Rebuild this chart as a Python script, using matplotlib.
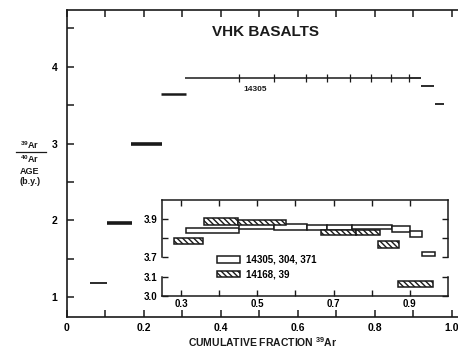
import matplotlib
matplotlib.use("Agg")
import matplotlib.pyplot as plt
from matplotlib.patches import Patch
import numpy as np

plt.rcParams['font.family'] = ['Liberation Sans', 'DejaVu Sans']
plt.rcParams['font.weight'] = 'bold'
plt.rcParams['axes.labelweight'] = 'bold'
plt.rcParams['mathtext.fontset'] = 'custom'
plt.rcParams['mathtext.rm'] = 'Liberation Sans:bold'
plt.rcParams['mathtext.it'] = 'Liberation Sans:bold'
plt.rcParams['mathtext.bf'] = 'Liberation Sans:bold'
plt.rcParams['mathtext.default'] = 'rm'
plt.rcParams['hatch.linewidth'] = 1.0

INK = '#1a1a1a'

# main age spectrum (cumulative fraction start, end, age in b.y.)
step_start = [0.060, 0.105, 0.166, 0.244, 0.307, 0.888, 0.919, 0.956]
step_end = [0.105, 0.170, 0.247, 0.309, 0.888, 0.919, 0.953, 0.980]
step_age = [1.18, 1.965, 3.00, 3.64, 3.857, 3.85, 3.745, 3.52]
step_width = [1.3, 2.6, 2.6, 1.8, 1.1, 1.3, 1.3, 1.3]
plateau_ticks = [0.447, 0.538, 0.621, 0.675, 0.735, 0.79, 0.842, 0.888]

# inset: 14305, 304, 371 (open boxes)
open_x0 = [0.313, 0.453, 0.545, 0.629, 0.682, 0.747, 0.853, 0.900, 0.932]
open_x1 = [0.453, 0.545, 0.629, 0.682, 0.747, 0.853, 0.900, 0.932, 0.966]
open_lo = [3.826, 3.847, 3.842, 3.842, 3.842, 3.847, 3.832, 3.805, 3.703]
open_hi = [3.850, 3.882, 3.876, 3.871, 3.871, 3.871, 3.861, 3.839, 3.726]

# inset: 14168, 39 (hatched boxes)
hatch_x0 = [0.282, 0.360, 0.450, 0.668, 0.760, 0.816]
hatch_x1 = [0.358, 0.450, 0.574, 0.760, 0.822, 0.871]
hatch_lo = [3.766, 3.871, 3.871, 3.818, 3.818, 3.747]
hatch_hi = [3.800, 3.905, 3.895, 3.842, 3.842, 3.782]
# the one low-age box (lower broken panel)
low_x0 = [0.868]
low_x1 = [0.960]
low_lo = [3.046]
low_hi = [3.077]

W, H = 458, 350
fig = plt.figure(figsize=(W / 100, H / 100), dpi=100)


def box(l, t, r, b):
    return [l / W, 1 - b / H, (r - l) / W, (b - t) / H]


ax = fig.add_axes(box(67, 10, 458, 317))
ax.set_xlim(0, 1.016)
ax.set_ylim(0.74, 4.74)
ax.spines['right'].set_visible(False)
for s in ax.spines.values():
    s.set_linewidth(1.2)
    s.set_color(INK)
ax.set_xticks(np.arange(0, 1.01, 0.2))
ax.set_xticklabels(['0', '0.2', '0.4', '0.6', '0.8', '1.0'])
ax.set_xticks(np.arange(0.1, 1.0, 0.2), minor=True)
ax.set_yticks([1, 2, 3, 4])
ax.set_yticks([1.5, 2.5, 3.5, 4.5], minor=True)
ax.tick_params(which='both', direction='in', length=5, width=1.1, color=INK,
               top=True, labeltop=False, right=False, labelsize=7.5)
ax.tick_params(axis='x', pad=4)
ax.tick_params(axis='y', pad=7)

for x0, x1, a, lw in zip(step_start, step_end, step_age, step_width):
    ax.plot([x0, x1], [a, a], color=INK, lw=lw, solid_capstyle='butt')
ax.plot(plateau_ticks, [step_age[4]] * len(plateau_ticks), ls='none',
        marker='|', ms=6, mew=0.9, color=INK)
ax.text(0.49, 3.71, '14305', fontsize=6, ha='center', va='center', color=INK)
ax.text(0.515, 4.45, 'VHK BASALTS', fontsize=11, ha='center', va='center', color=INK)

ax.set_xlabel('CUMULATIVE FRACTION $^{39}$Ar', fontsize=7.5, labelpad=2, color=INK)

# y-axis label stack
fig.text(30 / W, 1 - 145 / H, '$^{39}$Ar', fontsize=6.5, ha='center', va='center', color=INK)
fig.add_artist(plt.Line2D([16 / W, 46 / W], [1 - 152 / H, 1 - 152 / H], color=INK, lw=0.9))
fig.text(30 / W, 1 - 159 / H, '$^{40}$Ar', fontsize=6.5, ha='center', va='center', color=INK)
fig.text(30 / W, 1 - 171 / H, 'AGE', fontsize=6.5, ha='center', va='center', color=INK)
fig.text(30 / W, 1 - 181 / H, '(b.y.)', fontsize=6.5, ha='center', va='center', color=INK)

# inset, broken y axis
up = fig.add_axes(box(162, 200, 448, 257))
lo = fig.add_axes(box(162, 277, 448, 296))
for a_ in (up, lo):
    a_.set_xlim(0.25, 1.0)
    a_.set_xticks([0.3, 0.5, 0.7, 0.9])
    a_.set_xticks([0.4, 0.6, 0.8], minor=True)
    a_.patch.set_alpha(0)
    for s in a_.spines.values():
        s.set_linewidth(1.1)
        s.set_color(INK)
up.set_ylim(3.7, 4.0)
up.spines['bottom'].set_visible(False)
up.set_yticks([3.7, 3.9])
up.set_yticks([3.8], minor=True)
up.set_yticklabels(['3.7', '3.9'])
up.tick_params(which='both', direction='in', length=4, width=1, color=INK,
               top=True, bottom=False, labelbottom=False, right=True,
               labelsize=7, pad=3)
lo.set_ylim(3.0, 3.1)
lo.spines['top'].set_visible(False)
lo.set_yticks([3.0, 3.1])
lo.set_yticklabels(['3.0', '3.1'])
lo.tick_params(which='both', direction='in', length=4, width=1, color=INK,
               top=False, right=True, labelsize=7, pad=3)
lo.tick_params(axis='x', pad=2)

up.bar(open_x0, np.subtract(open_hi, open_lo), width=np.subtract(open_x1, open_x0),
       bottom=open_lo, align='edge', facecolor='white', edgecolor=INK, lw=1.1)
up.bar(hatch_x0, np.subtract(hatch_hi, hatch_lo), width=np.subtract(hatch_x1, hatch_x0),
       bottom=hatch_lo, align='edge', facecolor='white', edgecolor=INK, lw=1.1,
       hatch='\\\\\\\\\\\\')
lo.bar(low_x0, np.subtract(low_hi, low_lo), width=np.subtract(low_x1, low_x0),
       bottom=low_lo, align='edge', facecolor='white', edgecolor=INK, lw=1.1,
       hatch='\\\\\\\\\\\\')

handles = [Patch(facecolor='white', edgecolor=INK, lw=1.1, label='14305, 304, 371'),
           Patch(facecolor='white', edgecolor=INK, lw=1.1, hatch='\\\\\\\\\\\\', label='14168, 39')]
fig.legend(handles=handles, loc='upper left', bbox_to_anchor=(217 / W, 1 - 255 / H),
           frameon=False, fontsize=7, handlelength=2.4, handleheight=0.6,
           handletextpad=0.6, labelspacing=0.45, borderpad=0, borderaxespad=0)

fig.savefig('out.png', dpi=100)
